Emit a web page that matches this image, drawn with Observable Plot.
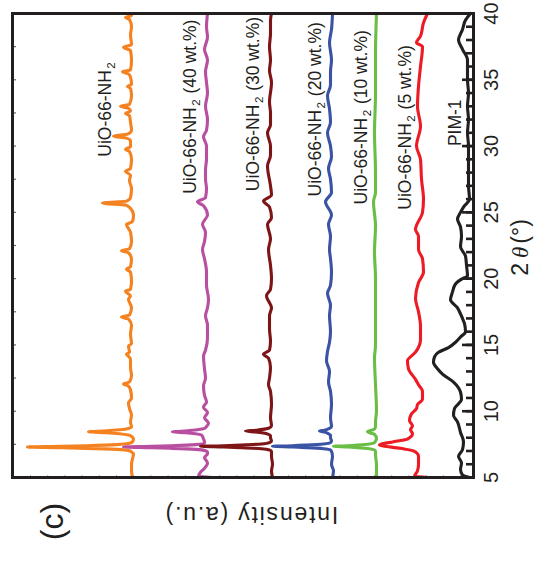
<!DOCTYPE html>
<html><head><meta charset="utf-8">
<script src="https://cdn.jsdelivr.net/npm/d3@7"></script>
<script src="https://cdn.jsdelivr.net/npm/@observablehq/plot@0.6"></script>
<style>
html,body{margin:0;padding:0;background:#fff;}
#wrap{position:relative;width:534px;height:573px;overflow:hidden;background:#fff;}
#chart{position:absolute;left:0;top:0;width:573px;height:534px;transform-origin:0 0;transform:translate(0,573px) rotate(-90deg);}
</style></head><body><div id="wrap"><div id="chart"></div></div>
<script>
// Series names, colours, vertical offsets (stacking, a.u.)
const names = ["UiO-66-NH₂", "UiO-66-NH₂ (40 wt.%)", "UiO-66-NH₂ (30 wt.%)", "UiO-66-NH₂ (20 wt.%)", "UiO-66-NH₂ (10 wt.%)", "UiO-66-NH₂ (5 wt.%)", "PIM-1"];
const colors = ["#F58220", "#B84FA0", "#7D1517", "#3A53A4", "#6ABD45", "#ED1C24", "#231F20"];
const offsets = [342, 266, 202, 141, 97, 53, 3];
// label positions (2θ start, intensity baseline)
const labelTheta = [29.2, 26.4, 26.6, 26.2, 25.6, 25.2, 30.0];
const labelY = [363, 278, 215, 153, 107, 63, 13];
// x ticks
const thetaTicks = [5, 10, 15, 20, 25, 30, 35, 40];

// [2θ, intensity above the series' own baseline]
const uio66 = [[5.0,-1],[5.5,0],[6.0,0],[6.4,-1],[6.8,-2],[6.92,0],[7.02,2],[7.12,15],[7.2,45],[7.25,70],[7.3,104],[7.35,70],[7.4,45],[7.48,15],[7.58,2],[7.7,-1],[7.9,-2],[8.1,0],[8.2,3],[8.3,12],[8.38,25],[8.45,43],[8.52,25],[8.6,12],[8.7,3],[8.82,0],[9.2,1],[9.7,0],[10.2,2],[10.6,3],[11.0,0],[11.6,1],[11.9,3],[12.05,8],[12.2,2],[12.7,0],[13.3,1],[13.9,1],[14.15,3],[14.3,5],[14.45,2],[14.9,3],[15.1,0],[15.8,1],[16.5,0],[16.95,3],[17.1,10],[17.25,2],[17.8,0],[18.45,3],[18.7,1],[19.05,6],[19.2,1],[19.8,0],[20.5,1],[20.7,5],[20.9,1],[21.5,0],[21.95,3],[22.1,10],[22.25,2],[22.8,0],[23.5,1],[24.1,5],[24.3,-1],[24.8,-2],[25.3,1],[25.55,6],[25.7,29],[25.85,5],[26.1,1],[26.8,0],[27.4,2],[27.8,1],[28.1,6],[28.3,1],[29.0,0],[29.6,2],[29.75,6],[29.95,1],[30.4,1],[30.6,5],[30.75,18],[30.9,4],[31.2,0],[31.8,1],[32.3,2],[32.45,6],[32.65,1],[32.85,3],[33.0,11],[33.15,2],[33.8,0],[34.35,1],[34.5,4],[34.65,0],[35.2,1],[35.45,3],[35.6,9],[35.75,1],[36.5,0],[37.2,1],[37.45,8],[37.65,0],[38.4,1],[39.0,0],[39.55,2],[39.7,6],[39.85,0],[40,0]];
const wt40 = [[5.0,-5],[5.1,9],[5.4,7],[5.7,3],[6.1,0],[6.5,3],[6.8,0],[6.92,0],[7.02,2],[7.12,12],[7.2,36],[7.25,56],[7.3,84],[7.35,56],[7.4,36],[7.48,12],[7.58,3],[7.7,3],[7.9,4],[8.1,5],[8.2,6],[8.3,12],[8.38,22],[8.45,35],[8.52,20],[8.6,10],[8.7,3],[8.85,1],[9.1,-1],[9.5,3],[9.9,0],[10.3,4],[10.7,1],[11.2,3],[11.9,4],[12.5,2],[13.2,3],[14.15,4],[14.6,2],[15.5,0],[16.5,0],[17.2,2],[17.8,0],[18.45,-1],[19.5,1],[20.5,1],[21.5,3],[22.2,5],[22.8,3],[23.5,2],[24.1,5],[24.8,0],[25.5,4],[25.8,10],[26.1,2],[26.8,1],[27.5,2],[28.2,2],[29.0,1],[30.0,1],[30.7,4],[31.2,1],[32.0,0],[33.0,2],[34.0,0],[34.8,1],[35.6,2],[36.5,0],[37.3,3],[38.2,0],[39.0,1],[40,0]];
const wt30 = [[5.0,-1],[5.5,0],[6.0,-1],[6.6,0],[6.97,0],[7.07,2],[7.17,10],[7.25,31],[7.3,48],[7.35,71],[7.4,48],[7.45,31],[7.53,10],[7.63,2],[7.75,0],[8.0,1],[8.15,1],[8.25,3],[8.35,8],[8.43,16],[8.5,26],[8.57,15],[8.65,7],[8.75,2],[8.9,0],[9.5,1],[10.5,0],[11.5,1],[12.0,3],[12.5,2],[13.3,1],[14.0,3],[14.3,8],[14.6,2],[15.3,1],[16.2,2],[17.2,2],[17.8,0],[18.7,5],[19.2,1],[20.0,0],[21.0,1],[22.2,3],[23.0,1],[24.1,4],[24.6,0],[25.4,2],[25.85,8],[26.3,0],[27.0,1],[28.5,4],[29.3,1],[30.0,1],[31.0,4],[31.6,1],[32.5,1],[33.3,2],[34.8,0],[35.7,2],[36.5,1],[37.5,2],[38.5,1],[39.5,1],[40,0]];
const wt20 = [[5.0,0],[5.5,-1],[6.0,1],[6.6,0],[6.97,1],[7.07,2],[7.17,9],[7.25,26],[7.3,40],[7.35,60],[7.4,40],[7.45,26],[7.53,9],[7.63,2],[7.75,1],[8.0,2],[8.2,2],[8.3,4],[8.43,8],[8.5,13],[8.57,8],[8.7,3],[8.85,1],[9.5,2],[10.5,1],[11.5,2],[12.2,4],[13.0,3],[13.8,6],[14.5,5],[15.2,3],[16.0,2],[17.2,3],[18.0,2],[18.9,5],[19.5,2],[20.5,1],[21.5,2],[22.2,3],[23.2,2],[24.1,4],[24.8,1],[25.8,7],[26.5,1],[27.5,2],[28.3,4],[29.2,1],[30.0,2],[31.0,5],[31.8,2],[32.8,3],[33.8,5],[34.6,2],[35.6,2],[36.5,1],[37.8,3],[38.8,1],[40,0]];
const wt10 = [[5.0,0],[6.0,0],[6.7,1],[6.97,1],[7.07,2],[7.17,7],[7.25,19],[7.3,29],[7.35,43],[7.4,29],[7.45,19],[7.53,7],[7.63,2],[7.75,1],[7.95,0],[8.25,2],[8.45,9],[8.65,2],[8.85,1],[9.2,1],[10.0,0],[12.0,1],[14.0,2],[15.0,1],[17.0,1],[19.0,1],[20.0,1],[22.0,2],[24.0,1],[25.8,3],[26.5,1],[28.0,1],[31.0,2],[34.0,1],[37.0,1],[40,0]];
const wt5 = [[5.0,-8],[5.1,6],[5.5,3],[6.0,2],[6.6,2],[7.0,7],[7.2,20],[7.45,41],[7.7,27],[7.9,13],[8.3,8],[8.6,10],[8.9,8],[9.3,11],[9.8,9],[10.2,4],[10.5,3],[10.9,-2],[11.5,-2],[12.0,2],[12.4,5],[13.2,12],[13.8,13],[14.45,5],[15.4,0],[16.4,0],[17.5,2],[18.5,5],[19.7,2],[20.5,-3],[21.5,-2],[22.2,2],[23.2,2],[23.7,5],[25.0,-2],[26.0,-3],[27.5,-1],[29.0,0],[30.0,4],[31.5,0],[33.0,3],[34.5,2],[36.0,0],[37.5,-2],[37.8,4],[38.3,0],[39.3,-3],[40,-7]];
const pim1 = [[5.0,1],[5.2,8],[5.6,10],[6.1,9],[6.6,12],[7.1,8],[7.7,7],[8.4,10],[9.2,13],[9.7,17],[10.2,16],[10.9,9],[11.45,10],[12.2,17],[12.8,28],[13.2,33],[13.7,37],[14.1,36],[14.45,32],[14.8,22],[15.2,15],[15.6,10],[16.0,5],[16.6,6],[17.0,8],[17.5,11],[17.8,13],[18.4,20],[19.0,18],[19.6,15],[20.0,8],[20.2,3],[21.0,4],[21.7,5],[22.4,10],[23.2,9],[23.9,10],[24.5,13],[25.0,10],[25.4,7],[26.0,1],[27.0,2],[28.0,2],[29.0,2],[30.0,2],[31.0,3],[32.0,2],[33.0,3],[34.0,2],[35.0,3],[36.0,3],[36.5,3],[37.3,8],[38.0,12],[38.8,8],[39.5,5],[40,0]];

const profiles = [uio66, wt40, wt30, wt20, wt10, wt5, pim1];
const rows = [];
profiles.forEach((p, i) => p.forEach(([t, h]) => rows.push({series: names[i], theta: t, intensity: offsets[i] + h})));
const labels = names.map((n, i) => ({text: n, theta: labelTheta[i], y: labelY[i]}));

const ink = "#231F20";
const plot = Plot.plot({
  width: 573, height: 534,
  marginLeft: 95, marginRight: 14, marginTop: 12, marginBottom: 61,
  style: {fontFamily: "'Liberation Sans', Arial, sans-serif", fontSize: "20px", background: "#fff", color: ink},
  x: {domain: [5, 40], ticks: thetaTicks, tickSize: 0, tickPadding: 10, label: null, tickFormat: d => String(d)},
  y: {domain: [0, 461], axis: null},
  color: {domain: names, range: colors},
  marks: [
    Plot.tickX(d3.range(5, 41, 1), {x: d => d, insetTop: 454, stroke: ink, strokeWidth: 2.6}),
    Plot.tickX(thetaTicks, {x: d => d, insetTop: 450, stroke: ink, strokeWidth: 2.6}),
    Plot.tickX(d3.range(5, 40.1, 2.5), {x: d => d, insetBottom: 457, stroke: "#666", strokeWidth: 1.2}),
    Plot.tickY(d3.range(13, 450, 17.2), {y: d => d, insetRight: 461, stroke: "#aaa", strokeWidth: 1}),
    Plot.line(rows, {x: "theta", y: "intensity", z: "series", stroke: "series", strokeWidth: 3.1, curve: "monotone-x"}),
    Plot.text(labels, {x: "theta", y: "y", text: "text", textAnchor: "start", lineAnchor: "bottom", fontSize: 17.5, fill: ink}),
    Plot.text(["2θ (°)"], {text: d => d, frameAnchor: "bottom", dy: 47, dx: -2, lineAnchor: "middle", textAnchor: "middle", fontSize: 23, fill: ink}),
    Plot.text(["Intensity (a.u.)"], {text: d => d, frameAnchor: "left", dx: -37, dy: 8, rotate: -90, lineAnchor: "middle", textAnchor: "middle", fontSize: 23, fill: ink}),
    Plot.text(["(c)"], {text: d => d, frameAnchor: "top-left", dx: -44, dy: 40, lineAnchor: "middle", textAnchor: "middle", fontSize: 32, fill: ink}),
    Plot.frame({stroke: ink, strokeWidth: 3})
  ]
});
document.getElementById("chart").append(plot);

// typographic touches: subscripts, italic theta, letter spacing
const ns = "http://www.w3.org/2000/svg";
plot.querySelectorAll("text").forEach(t => {
  const s = t.textContent;
  if (s.includes("NH₂")) {
    const [a, b] = s.split("₂");
    t.textContent = a;
    const sub = document.createElementNS(ns, "tspan");
    sub.setAttribute("font-size", "11.5"); sub.setAttribute("dy", "4"); sub.setAttribute("dx", "1.5");
    sub.textContent = "2"; t.append(sub);
    if (b) { const r = document.createElementNS(ns, "tspan"); r.setAttribute("dy", "-4"); r.setAttribute("dx", "1"); r.textContent = b; t.append(r); }
  } else if (s === "2θ (°)") {
    t.textContent = "2";
    const th = document.createElementNS(ns, "tspan");
    th.setAttribute("font-style", "italic"); th.setAttribute("font-family", "'Liberation Serif', serif"); th.setAttribute("dx", "5"); th.textContent = "θ"; t.append(th);
    const r = document.createElementNS(ns, "tspan"); r.setAttribute("dx", "3"); r.textContent = "(°)"; t.append(r);
  } else if (s === "Intensity (a.u.)") {
    t.style.letterSpacing = "1.8px";
  }
});
</script></body></html>
